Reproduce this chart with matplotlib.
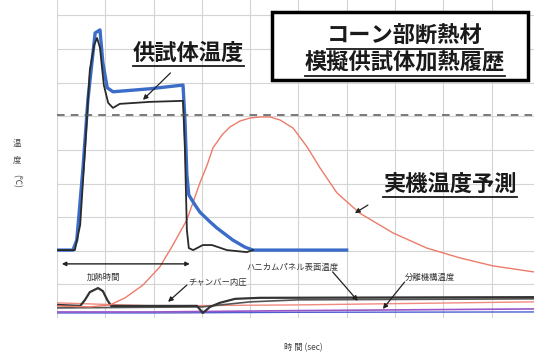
import matplotlib
matplotlib.use("Agg")
import matplotlib.pyplot as plt
from matplotlib.lines import Line2D
from matplotlib.patches import Rectangle

plt.rcParams['font.family'] = ['Noto Sans CJK JP', 'DejaVu Sans']

# 供試体温度 (blue, measured)
t_blue = [0, 33, 41, 54, 64, 79, 89, 95, 104, 116, 193, 261, 265, 269, 273, 286, 296, 317, 331, 364, 389, 406, 600]
T_blue = [202, 202, 232, 449, 649, 848, 857, 759, 685, 673, 682, 693, 589, 426, 366, 336, 315, 286, 268, 232, 211, 202, 202]

# 供試体温度 (black)
t_black = [0, 37, 48, 58, 68, 77, 83, 89, 97, 106, 116, 130, 193, 261, 265, 269, 273, 282, 302, 321, 352, 393, 406]
T_black = [202, 202, 277, 500, 738, 812, 833, 804, 693, 640, 625, 637, 643, 646, 500, 262, 208, 202, 217, 217, 202, 196, 202]

# 実機温度予測
t_pred = [0, 68, 110, 141, 178, 213, 240, 269, 296, 311, 323, 342, 358, 379, 400, 420, 441, 462, 489, 518,
          545, 580, 627, 696, 766, 834, 903, 988]
T_pred = [36, 33, 39, 60, 98, 152, 217, 292, 402, 455, 506, 545, 568, 586, 595, 598, 598, 589, 565, 509,
          446, 372, 312, 253, 208, 179, 155, 137]

# チャンバー内圧
t_press = [0, 48, 58, 68, 85, 95, 104, 112, 193, 290, 302, 317, 337, 369, 420, 988]
T_press = [39, 36, 54, 77, 89, 80, 54, 36, 36, 36, 15, 33, 45, 57, 60, 62]

# ハニカムパネル表面温度
t_honey = [0, 300, 400, 500, 988]
T_honey = [30, 33, 48, 54, 57]

# other thermocouples
t_low = [0, 200, 500, 988]
T_red2 = [45, 36, 39, 48]
T_purple = [18, 18, 22, 27]
T_blue2 = [15, 15, 17, 18]

limit_T = 604
heat_start, heat_end = 10, 275

fig = plt.figure(figsize=(5.34, 3.53), dpi=100)
ax = fig.add_axes([57 / 534, 35 / 353, 1 - 57 / 534, 1 - 35 / 353])
ax.set_xlim(0, 988)
ax.set_ylim(0, 946)
ax.set_xticks(range(0, 1000, 100))
ax.set_yticks(range(0, 1000, 100))
ax.tick_params(length=0, labelbottom=False, labelleft=False)
for s in ax.spines.values():
    s.set_visible(False)
ax.grid(True, color='#d4d4d4', lw=0.8)

ax.plot(t_low, T_blue2, color='#4a5fd0', lw=1.0)
ax.plot(t_low, T_purple, color='#9a55c8', lw=1.2)
ax.plot(t_low, T_red2, color='#f08a80', lw=1.0)
ax.plot(t_honey, T_honey, color='#555555', lw=1.2)
ax.plot(t_press, T_press, color='#333333', lw=1.6)
ax.plot(t_pred, T_pred, color='#ec7b6a', lw=1.0)
ax.plot(t_blue, T_blue, color='#3a6cc8', lw=2.4)
ax.plot(t_black, T_black, color='#2a2a2a', lw=1.3)
ax.axhline(limit_T, color='#555555', lw=1.1, dashes=(5, 4))

arrow = dict(arrowstyle='-|>', color='#222222', lw=0.9, mutation_scale=7, shrinkA=0, shrinkB=0)

ax.annotate('', xy=(heat_start, 161), xytext=(heat_end, 161),
            arrowprops=dict(arrowstyle='<|-|>', color='#222222', lw=1.0, mutation_scale=6,
                            shrinkA=0, shrinkB=0))
small = dict(fontsize=6, color='#333333', va='center')
ax.text(96, 122, '加熱時間', ha='center', **small)
ax.text(271, 107, 'チャンバー内圧', ha='left', **small)
ax.annotate('', xy=(230, 48), xytext=(269, 98), arrowprops=arrow)
ax.text(393, 152, 'ハニカムパネル表面温度', ha='left', **small)
ax.annotate('', xy=(623, 51), xytext=(571, 137), arrowprops=arrow)
ax.text(720, 122, '分離機構温度', ha='left', **small)
ax.annotate('', xy=(675, 27), xytext=(720, 107), arrowprops=arrow)

big = dict(fontsize=16, fontweight='bold', color='#1a1a1a', ha='center', va='center')
lbl_spec = ax.text(273, 788, '供試体温度', **big)
ax.annotate('', xy=(178, 649), xytext=(235, 729), arrowprops=arrow)
lbl_pred = ax.text(814, 397, '実機温度予測', **big)
ax.annotate('', xy=(617, 312), xytext=(644, 336), arrowprops=arrow)

# title box
fig.add_artist(Rectangle((272 / 534, 1 - 80 / 353), 256 / 534, 68 / 353, transform=fig.transFigure,
                         facecolor='white', edgecolor='black', lw=2.5, zorder=5))
ttl = dict(fontsize=16, fontweight='bold', color='#1a1a1a', ha='center', va='center', zorder=6)
t1 = fig.text(405 / 534, 1 - 36 / 353, 'コーン部断熱材', **ttl)
t2 = fig.text(405 / 534, 1 - 63 / 353, '模擬供試体加熱履歴', **ttl)

# axis labels
lab = dict(fontsize=6, color='#444444', ha='center', va='center')
fig.text(17 / 534, 1 - 143 / 353, '温', **lab)
fig.text(17 / 534, 1 - 160 / 353, '度', **lab)
fig.text(17 / 534, 1 - 181 / 353, '(℃)', rotation=-90, **lab)
fig.text(303 / 534, 1 - 348 / 353, '時 間 (sec)', **lab)

# underline the headings
fig.canvas.draw()
inv = fig.transFigure.inverted()
for txt in (lbl_spec, lbl_pred, t1, t2):
    bb = txt.get_window_extent().transformed(inv)
    fig.add_artist(Line2D([bb.x0, bb.x1], [bb.y0 - 0.004, bb.y0 - 0.004], transform=fig.transFigure,
                          color='#1a1a1a', lw=1.3, zorder=7))

fig.savefig('out.png', dpi=100)
